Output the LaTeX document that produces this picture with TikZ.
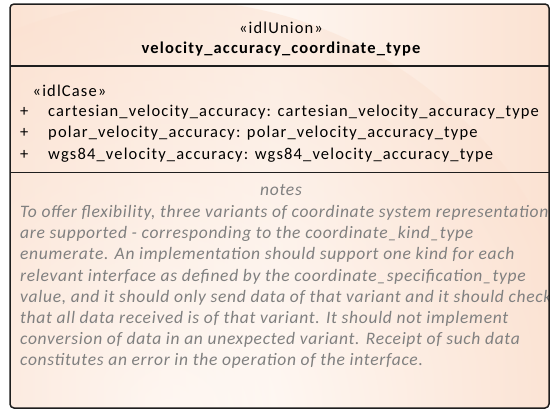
\documentclass[tikz,border=0pt]{standalone}
\usepackage{fontspec}
\setmainfont{Carlito}
\newfontfamily\uifont[LetterSpace=7]{Carlito}
\newfontfamily\notefont[LetterSpace=4]{Carlito}
\definecolor{peach}{RGB}{251,226,210}
\definecolor{peachlight}{RGB}{254,246,240}
\definecolor{notegray}{RGB}{128,128,128}
\definecolor{edge}{RGB}{30,30,30}
\tikzset{
  txt/.style={inner sep=0pt, anchor=base west, font=\fontsize{16.5}{18}\uifont},
  notetxt/.style={txt, text=notegray, font=\fontsize{17.5}{18}\notefont\itshape},
}
\begin{document}
\begin{tikzpicture}[x=1pt,y=-1pt]
\useasboundingbox (0,0) rectangle (551,410);

% background of the class box
\begin{scope}
  \clip[rounded corners=4pt] (10,4) rectangle (549,408);
  \shade[left color=peach, right color=peach, middle color=peachlight] (0,0) rectangle (551,410);
  \shade[inner color=white, outer color=peach, opacity=0.5] (170,420) circle (420);
\end{scope}

% header
\node[txt, anchor=base] (stereo) at (281,33) {«idlUnion»};
\node[txt, anchor=base, font=\fontsize{16.5}{18}\uifont\bfseries] (name) at (281,53.5) {velocity\_accuracy\_coordinate\_type};

% attributes
\node[txt] (case) at (32.5,96) {«idlCase»};
\node[txt] (p1) at (20,116.7) {+};
\node[txt] (a1) at (48,116.7) {cartesian\_velocity\_accuracy: cartesian\_velocity\_accuracy\_type};
\node[txt] (p2) at (20,137.9) {+};
\node[txt] (a2) at (48,137.9) {polar\_velocity\_accuracy: polar\_velocity\_accuracy\_type};
\node[txt] (p3) at (20,159) {+};
\node[txt] (a3) at (48,159) {wgs84\_velocity\_accuracy: wgs84\_velocity\_accuracy\_type};

% notes
\begin{scope}
  \clip (10,4) rectangle (549,408);
  \node[notetxt, anchor=base] (notes) at (281,195.3) {notes};
  \node[notetxt] (n1) at (20,217.5) {To offer flexibility, three variants of coordinate system representation};
  \node[notetxt] (n2) at (20,238.7) {are supported - corresponding to the coordinate\_kind\_type};
  \node[notetxt] (n3) at (20,259.9) {enumerate. An implementation should support one kind for each};
  \node[notetxt] (n4) at (20,281.1) {relevant interface as defined by the coordinate\_specification\_type};
  \node[notetxt] (n5) at (20,302.3) {value, and it should only send data of that variant and it should check};
  \node[notetxt] (n6) at (20,323.5) {that all data received is of that variant. It should not implement};
  \node[notetxt] (n7) at (20,344.7) {conversion of data in an unexpected variant. Receipt of such data};
  \node[notetxt] (n8) at (20,365.9) {constitutes an error in the operation of the interface.};
\end{scope}

% compartments and outline
\draw[edge, line width=2pt] (10,65.5) -- (549,65.5);
\draw[edge, line width=1.5pt] (10,172.3) -- (549,172.3);
\draw[edge, line width=1.5pt, rounded corners=4pt] (10,4) rectangle (549,408);
\end{tikzpicture}
\end{document}
